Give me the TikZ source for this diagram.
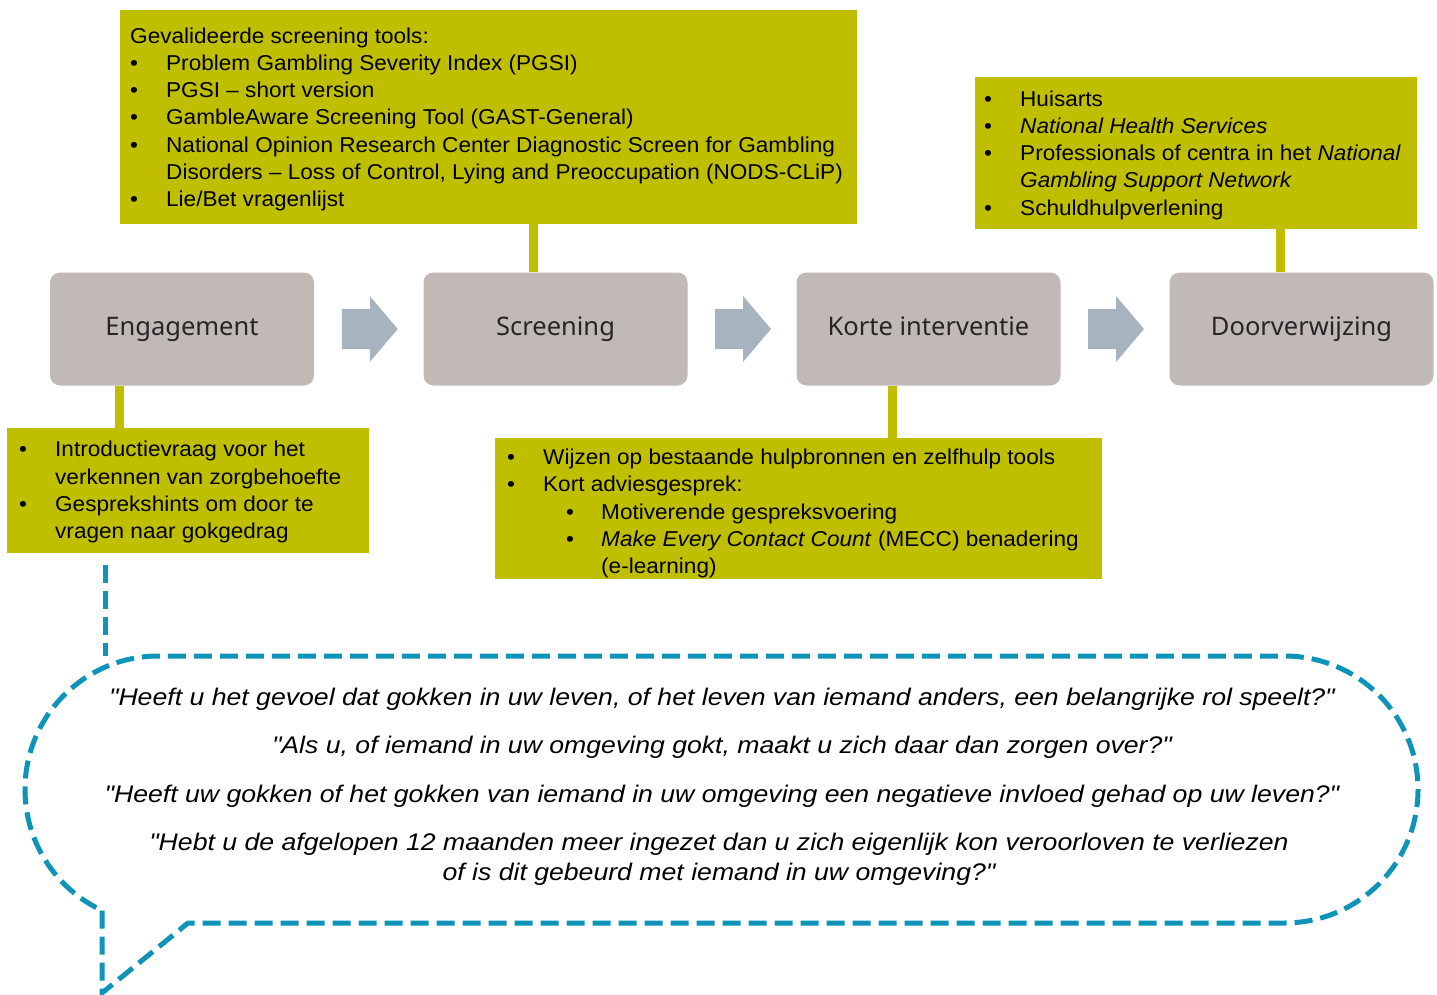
\documentclass[tikz,border=0pt]{standalone}
\usepackage{fontspec}
\setmainfont{Liberation Sans}
\newfontfamily\boxfont[FakeStretch=1.05]{Liberation Sans}
\newfontfamily\quotefont[FakeStretch=1.11]{Liberation Sans}
\newfontfamily\stagefont{Noto Sans}
\usetikzlibrary{calc}

\definecolor{infoyellow}{RGB}{191,191,0}
\definecolor{stagegrey}{RGB}{193,185,181}
\definecolor{stagetext}{RGB}{38,38,38}
\definecolor{flowgrey}{RGB}{167,180,191}
\definecolor{bubbleblue}{RGB}{13,148,184}

\newcommand{\bul}[1][36pt]{\makebox[#1][l]{\textbullet}}
\newcommand{\dq}{\symbol{34}}

\tikzset{
  stage/.style={rectangle, rounded corners=10pt, fill=stagegrey, inner sep=0pt,
    minimum width=264pt, minimum height=113pt, text=stagetext,
    text height=19pt, text depth=6pt,
    font=\stagefont\fontsize{25.5}{30}\selectfont},
  infobox/.style={rectangle, fill=infoyellow, inner sep=0pt},
  % anchored at the baseline of the last line
  infotext/.style={anchor=base west, inner sep=0pt, align=left,
    font=\boxfont\fontsize{21.5}{27.2}\selectfont},
  stem/.style={draw=infoyellow, line width=9pt},
  flowarrow/.style={fill=flowgrey},
  bubbleline/.style={draw=bubbleblue, line width=5pt,
    dash pattern=on 18pt off 8pt},
  question/.style={anchor=base, inner sep=0pt, align=center,
    font=\quotefont\itshape\fontsize{24}{30}\selectfont},
}

\begin{document}
\begin{tikzpicture}[x=1pt, y=-1pt]
\useasboundingbox (0,0) rectangle (1437,995);

% the four stages
\node[stage] (eng) at (182,329)    {Engagement};
\node[stage] (scr) at (555.5,329)  {Screening};
\node[stage] (kort) at (928.5,329) {Korte interventie};
\node[stage] (door) at (1301.5,329){Doorverwijzing};

% block arrows between the stages
\foreach \a/\b/\n in {eng/scr/f1, scr/kort/f2, kort/door/f3}{
  \coordinate (\n) at ($(\a.east)!0.5!(\b.west)$);
  \fill[flowarrow] ([shift={(-27,-20)}]\n) -- ([shift={(1,-20)}]\n)
    -- ([shift={(1,-33)}]\n) -- ([shift={(29,0)}]\n)
    -- ([shift={(1,33)}]\n) -- ([shift={(1,20)}]\n)
    -- ([shift={(-27,20)}]\n) -- cycle;
}

% information boxes
\node[infobox, minimum width=737pt, minimum height=214pt] (toolsbox) at (488.5,117) {};
\node[infobox, minimum width=442pt, minimum height=152pt] (refbox) at (1195.5,153) {};
\node[infobox, minimum width=362pt, minimum height=125pt] (engbox) at (188,490.5) {};
\node[infobox, minimum width=607pt, minimum height=141pt] (kortbox) at (798.5,508.5) {};

% stems linking boxes and stages
\coordinate (s1) at (533,0);
\coordinate (s2) at (1280.5,0);
\coordinate (s3) at (119.5,0);
\coordinate (s4) at (892,0);
\draw[stem] (toolsbox.south -| s1) -- (scr.north -| s1);
\draw[stem] (refbox.south -| s2) -- (door.north -| s2);
\draw[stem] (eng.south -| s3) -- (engbox.north -| s3);
\draw[stem] (kort.south -| s4) -- (kortbox.north -| s4);

% box texts
\node[infotext] (toolstext) at (130,206.5) {%
  Gevalideerde screening tools:\\
  \bul Problem Gambling Severity Index (PGSI)\\
  \bul PGSI – short version\\
  \bul GambleAware Screening Tool (GAST-General)\\
  \bul National Opinion Research Center Diagnostic Screen for Gambling\\
  \hspace*{36pt}Disorders – Loss of Control, Lying and Preoccupation (NODS-CLiP)\\
  \bul Lie/Bet vragenlijst};

\node[infotext] (reftext) at (984,215) {%
  \bul Huisarts\\
  \bul \textit{National Health Services}\\
  \bul Professionals of centra in het \textit{National}\\
  \hspace*{36pt}\textit{Gambling Support Network}\\
  \bul Schuldhulpverlening};

\node[infotext] (engtext) at (19,538.5) {%
  \bul Introductievraag voor het\\
  \hspace*{36pt}verkennen van zorgbehoefte\\
  \bul Gesprekshints om door te\\
  \hspace*{36pt}vragen naar gokgedrag};

\node[infotext] (korttext) at (507,573.5) {%
  \bul Wijzen op bestaande hulpbronnen en zelfhulp tools\\
  \bul Kort adviesgesprek:\\
  \hspace*{59pt}\bul[35pt]Motiverende gespreksvoering\\
  \hspace*{59pt}\bul[35pt]\textit{Make Every Contact Count} (MECC) benadering\\
  \hspace*{94pt}(e-learning)};

% speech bubble with the conversation hints
\coordinate (tagtop) at (105,565);
\coordinate (tagbot) at (105,656);
\draw[bubbleline] (tagtop) -- (tagbot);

\coordinate (tailA) at (102,910.5);
\coordinate (tailB) at (102,993);
\coordinate (tailC) at (188,923);
\coordinate (bubBR) at (1284.5,923);
\coordinate (bubTL) at (158.5,656);
\draw[bubbleline] (tailA) -- (tailB) -- (tailC) -- (bubBR)
  arc[start angle=90, end angle=-90, radius=133.5]
  -- (bubTL)
  arc[start angle=270, end angle=115, radius=133.5];

\node[question] (q1) at (722,705) {\dq Heeft u het gevoel dat gokken in uw leven, of het leven van iemand anders, een belangrijke rol speelt?\dq};
\node[question] (q2) at (722,753) {\dq Als u, of iemand in uw omgeving gokt, maakt u zich daar dan zorgen over?\dq};
\node[question] (q3) at (722,802) {\dq Heeft uw gokken of het gokken van iemand in uw omgeving een negatieve invloed gehad op uw leven?\dq};
\node[question] (q4) at (719,880) {\dq Hebt u de afgelopen 12 maanden meer ingezet dan u zich eigenlijk kon veroorloven te verliezen\\of is dit gebeurd met iemand in uw omgeving?\dq};
\end{tikzpicture}
\end{document}
